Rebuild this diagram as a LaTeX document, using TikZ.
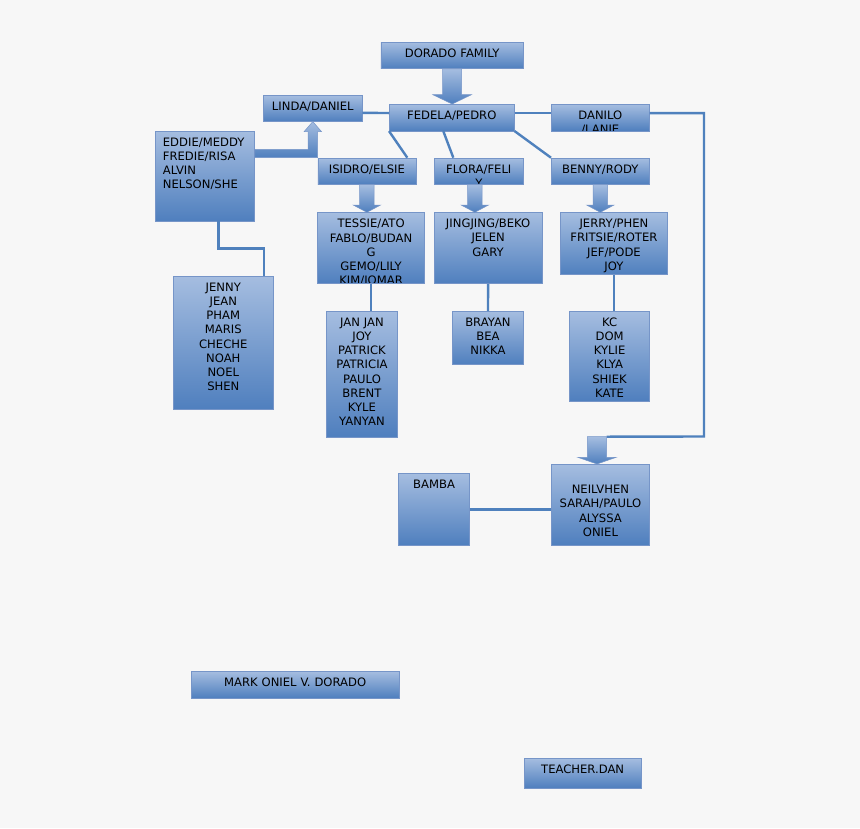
\documentclass[tikz,border=0pt]{standalone}
\usepackage{fontspec}
\setmainfont{DejaVu Sans}
\usepackage{xcolor}
\definecolor{paper}{RGB}{247,247,247}
\definecolor{boxtop}{RGB}{165,189,224}
\definecolor{boxbot}{RGB}{79,127,190}
\definecolor{boxedge}{RGB}{118,149,200}
\definecolor{linkblue}{RGB}{79,129,189}
\usepackage{tikz}
\usetikzlibrary{calc}

\begin{document}
\begin{tikzpicture}[
  x=1pt, y=-1pt,
  famblock/.style={draw=boxedge, top color=boxtop, bottom color=boxbot, line width=0.6pt, anchor=north west, inner sep=0pt, align=center, font=\fontsize{11.6}{14.2}\selectfont, text height=15pt},
  cliptext/.style={anchor=north, inner sep=0pt, align=center, font=\fontsize{11.6}{14.2}\selectfont, text height=15pt, text depth=0pt},
  link/.style={draw=linkblue, line width=2.4pt},
  blockarrow/.style n args={3}{draw=boxedge, top color=boxtop, bottom color=boxbot, line width=0.5pt,
    to path={let \p1=(\tikztostart), \p2=(\tikztotarget) in
      (\x1-#1,\y1) -- (\x1+#1,\y1) -- (\x1+#1,\y2+#3) -- (\x1+#2,\y2+#3) -- (\x1,\y2) -- (\x1-#2,\y2+#3) -- (\x1-#1,\y2+#3) -- cycle}}
]
\fill[paper] (0,0) rectangle (860,828);

% first row
\node[famblock, text width=142.7pt, text depth=11.6pt] (dorado) at (380.5,41.7) {DORADO FAMILY};
\node[famblock, text width=98.4pt, text depth=11pt] (linda) at (263.3,95) {LINDA/DANIEL};
\node[famblock, text width=125pt, text depth=11.5pt] (fedela) at (389,104) {FEDELA/PEDRO};
\node[famblock, text width=98pt, text depth=11.5pt,
  path picture={\node[cliptext, text width=98pt] at (path picture bounding box.north) {DANILO\\/LANIE};}] (danilo) at (551,104) {};
\node[famblock, align=left, inner xsep=7.3pt, text width=84.4pt, text depth=74.7pt] (eddie) at (155.3,131) {EDDIE/MEDDY\\FREDIE/RISA\\ALVIN\\NELSON/SHE};

% children of fedela/pedro
\node[famblock, text width=98.2pt, text depth=11.3pt] (isidro) at (317.5,157.7) {ISIDRO/ELSIE};
\node[famblock, text width=89pt, text depth=11.3pt,
  path picture={\node[cliptext, text width=89pt] at (path picture bounding box.north) {FLORA/FELI\\Y};}] (flora) at (434,157.7) {};
\node[famblock, text width=98pt, text depth=11.3pt] (benny) at (551,157.7) {BENNY/RODY};

% grandchildren
\node[famblock, text width=107pt, text depth=56pt,
  path picture={\node[cliptext, text width=107pt] at (path picture bounding box.north) {TESSIE/ATO\\FABLO/BUDAN\\G\\GEMO/LILY\\KIM/JOMAR};}] (tessie) at (317.3,212.3) {};
\node[famblock, text width=107.7pt, text depth=56pt] (jingjing) at (434,212.3) {JINGJING/BEKO\\JELEN\\GARY};
\node[famblock, text width=107.3pt, text depth=47pt] (jerry) at (560,212.3) {JERRY/PHEN\\FRITSIE/ROTER\\JEF/PODE\\JOY};
\node[famblock, text width=99.4pt, text depth=118.3pt] (jenny) at (173.3,276) {JENNY\\JEAN\\PHAM\\MARIS\\CHECHE\\NOAH\\NOEL\\SHEN};
\node[famblock, text width=71.3pt, text depth=110.7pt] (janjan) at (326,311) {JAN JAN\\JOY\\PATRICK\\PATRICIA\\PAULO\\BRENT\\KYLE\\YANYAN};
\node[famblock, text width=71.3pt, text depth=38.3pt] (brayan) at (452,311) {BRAYAN\\BEA\\NIKKA};
\node[famblock, text width=80pt, text depth=74.7pt] (kc) at (569.3,311) {KC\\DOM\\KYLIE\\KLYA\\SHIEK\\KATE};

% danilo side
\node[famblock, text width=71pt, text depth=56.4pt] (bamba) at (398.3,473.3) {BAMBA};
\node[famblock, text width=98.3pt, text height=29.3pt, text depth=51.4pt] (neil) at (551,464) {NEILVHEN\\SARAH/PAULO\\ALYSSA\\ONIEL};

% footer
\node[famblock, text width=207.7pt, text depth=11.7pt] (mark) at (191,671) {MARK ONIEL V. DORADO};
\node[famblock, text width=116.7pt, text depth=14.7pt] (teacher) at (524,758) {TEACHER.DAN};

\coordinate (drop) at (704,436.5);
\coordinate (droparrow) at (597,436.7);

\draw[link] ([yshift=-4.5pt]linda.east) -- ([yshift=4.5pt]fedela.west);
\draw[link] ([yshift=4.5pt]fedela.east) -- ([yshift=4.5pt]danilo.west);
\draw[link] ([yshift=4.5pt]danilo.east) -| (drop) -- ([xshift=9.7pt]droparrow);
\draw[link] (fedela.south west) -- ([xshift=-9pt]isidro.north east);
\draw[link] ([xshift=-8.5pt]fedela.south) -- ([xshift=-25.5pt]flora.north);
\draw[link] (fedela.south east) -- (benny.north west);
\draw[link] ([xshift=13.5pt]eddie.south) |- ([xshift=-9.4pt,yshift=27.7pt]jenny.north east) -- ([xshift=-9.4pt]jenny.north east);
\draw[link] (tessie.south) -- (tessie.south |- janjan.north);
\draw[link] (jingjing.south) -- (brayan.north);
\draw[link] (jerry.south) -- (jerry.south |- kc.north);
\draw[link] (bamba.east) -- (bamba.east -| neil.west);

\draw[blockarrow={9.5pt}{19.3pt}{9.3pt}] (dorado.south) to (dorado.south |- fedela.north);
\draw[blockarrow={7.3pt}{13.7pt}{7.3pt}] (isidro.south) to (isidro.south |- tessie.north);
\draw[blockarrow={7.3pt}{13.7pt}{7.3pt}] ([xshift=-4pt]flora.south) to ([xshift=-4pt]flora.south |- jingjing.north);
\draw[blockarrow={7.3pt}{13.7pt}{7.3pt}] (benny.south) to (benny.south |- jerry.north);
\draw[blockarrow={9.7pt}{19.2pt}{6.7pt}] (droparrow) to (droparrow |- neil.north);
\draw[draw=boxedge, top color=boxtop, bottom color=boxbot, line width=0.5pt]
  let \p1=(linda.south), \p2=(eddie.north east) in
  (\x2,\y2-18.3pt) -- (\x1-4.7pt,\y2-18.3pt) -- (\x1-4.7pt,\y1-10pt) -- (\x1-8.7pt,\y1-10pt) -- (\p1)
  -- (\x1+8.7pt,\y1-10pt) -- (\x1+4.7pt,\y1-10pt) -- (\x1+4.7pt,\y2-26.7pt) -- (\x2,\y2-26.7pt) -- cycle;
\end{tikzpicture}
\end{document}
